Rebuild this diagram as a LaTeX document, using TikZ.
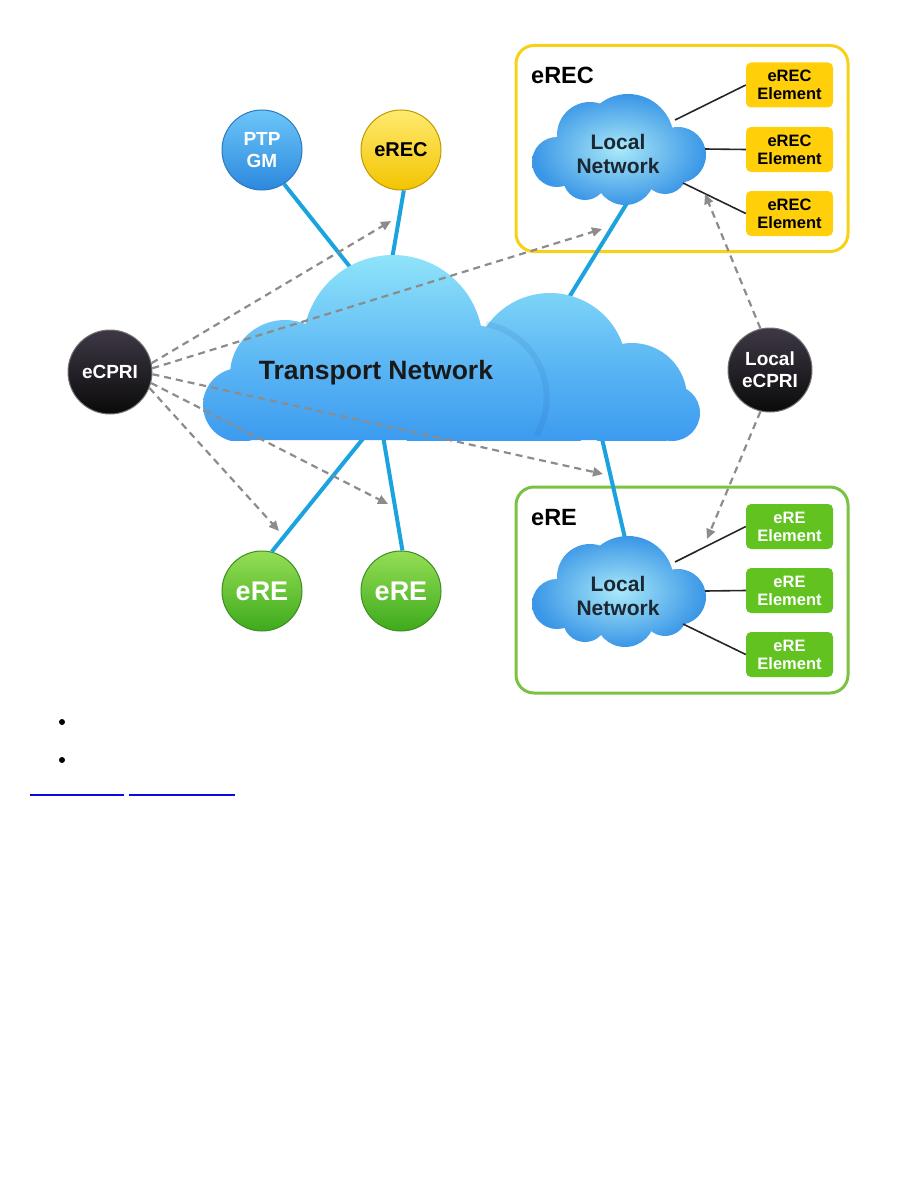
\documentclass[tikz,border=0pt]{standalone}
\usepackage{fontspec}
\setmainfont{Liberation Sans}
\usetikzlibrary{arrows.meta}
\definecolor{lineblue}{HTML}{1AA3DF}
\definecolor{arrgray}{HTML}{8C8C8C}
\definecolor{erecborder}{HTML}{F7D117}
\definecolor{erecfill}{HTML}{FFD00A}
\definecolor{ereborder}{HTML}{7CC242}
\definecolor{erefill}{HTML}{62C320}
\definecolor{ptpedge}{HTML}{2F78C0}
\definecolor{ptptop}{HTML}{6CC6F8}
\definecolor{ptpbot}{HTML}{2C88DE}
\definecolor{erecedge}{HTML}{BF9B00}
\definecolor{erectop}{HTML}{FFEA70}
\definecolor{erecbot}{HTML}{F2C400}
\definecolor{reedge}{HTML}{3C8E1E}
\definecolor{retop}{HTML}{95DE55}
\definecolor{rebot}{HTML}{3DAA1C}
\definecolor{blktop}{HTML}{3E3846}
\definecolor{blkbot}{HTML}{0A0A0A}
\definecolor{cloudtop}{HTML}{8FE4FA}
\definecolor{cloudbot}{HTML}{2F8FEE}
\definecolor{lcin}{HTML}{A9E9F9}
\definecolor{lcout}{HTML}{3A96E6}
\definecolor{darktext}{HTML}{1C2733}
\definecolor{linkblue}{HTML}{0A0AE0}
\begin{document}
\begin{tikzpicture}[x=1pt,y=-1pt,
  every node/.style={font=\bfseries},
  ball/.style={circle, minimum size=80pt, inner sep=0pt, line width=1pt, align=center},
  ptpball/.style={ball, draw=ptpedge, top color=ptptop, bottom color=ptpbot, text=white, font=\bfseries\fontsize{19}{22}\selectfont},
  erecball/.style={ball, draw=erecedge, top color=erectop, bottom color=erecbot, text=black, font=\bfseries\fontsize{20}{22}\selectfont},
  reball/.style={ball, draw=reedge, top color=retop, bottom color=rebot, text=white, font=\bfseries\fontsize{27}{30}\selectfont},
  blkball/.style={ball, minimum size=84pt, draw=black!55, top color=blktop, bottom color=blkbot, text=white, font=\bfseries\fontsize{19}{22}\selectfont},
  groupbox/.style={rectangle, rounded corners=18pt, line width=3pt, minimum width=332pt, minimum height=206pt, inner sep=0pt},
  grouplabel/.style={anchor=west, inner sep=0pt, font=\bfseries\fontsize{23.5}{26}\selectfont},
  cell/.style={rectangle, rounded corners=5pt, minimum width=87pt, minimum height=45pt, inner sep=0pt, align=center, font=\bfseries\fontsize{16.5}{18}\selectfont},
  ereccell/.style={cell, fill=erecfill, text=black},
  recell/.style={cell, fill=erefill, text=white},
  blueline/.style={draw=lineblue, line width=4pt},
  darrow/.style={draw=arrgray, line width=2.2pt, dash pattern=on 7pt off 5pt, -{Triangle[length=10pt,width=9pt]}},
  elemline/.style={draw=black!85, line width=1.6pt},
  lntext/.style={align=center, text=darktext, font=\bfseries\fontsize{21}{23.5}\selectfont},
]
\useasboundingbox (0,0) rectangle (918,1188);

% group boxes
\node[groupbox, draw=erecborder] (erecgroup) at (682,148.5) {};
\node[groupbox, draw=ereborder] (regroup) at (682,590) {};
\node[grouplabel] (erecglabel) at (531,75.5) {eREC};
\node[grouplabel] (reglabel) at (531,518) {eRE};

% circle nodes
\node[ptpball] (ptp) at (262,150) {PTP\\GM};
\node[erecball] (erec) at (401,150) {eREC};
\node[blkball] (ecpri) at (110,372) {eCPRI};
\node[blkball] (lecpri) at (770,370) {Local\\eCPRI};
\node[reball] (ere1) at (262,591) {eRE};
\node[reball] (ere2) at (401,591) {eRE};

% element cells
\node[ereccell] (ec1) at (789.5,85) {eREC\\Element};
\node[ereccell] (ec2) at (789.5,149.5) {eREC\\Element};
\node[ereccell] (ec3) at (789.5,213.5) {eREC\\Element};
\node[recell] (rc1) at (789.5,526.5) {eRE\\Element};
\node[recell] (rc2) at (789.5,590.5) {eRE\\Element};
\node[recell] (rc3) at (789.5,654.5) {eRE\\Element};

% hidden ends inside clouds
\coordinate (tc1) at (358,277);
\coordinate (tc2) at (391,265);
\coordinate (tc3) at (560,312);
\coordinate (tc4) at (370,430);
\coordinate (tc5) at (382,430);
\coordinate (tc6) at (600,430);
\coordinate (la) at (632,195);
\coordinate (lb) at (630,560);

% blue links
\draw[blueline] (ptp.-57) -- (tc1);
\draw[blueline] (erec.-86) -- (tc2);
\draw[blueline] (tc3) -- (la);
\draw[blueline] (ere1.76) -- (tc4);
\draw[blueline] (ere2.88) -- (tc5);
\draw[blueline] (tc6) -- (lb);

% transport cloud
\begin{scope}
  \clip (0,0) rectangle (918,440);
  \shade[top color=cloudtop, bottom color=cloudbot, middle color=cloudtop!45!cloudbot]
    (550,370) circle[radius=77pt]
    (632,398) circle[radius=55pt]
    (672,413) circle[radius=28pt]
    (500,380) rectangle (672,440)
    (393,345) circle[radius=90pt]
    (285,375) circle[radius=55pt]
    (240,405) circle[radius=37pt]
    (470,400) circle[radius=75pt]
    (240,380) rectangle (470,440)
    (285,340) rectangle (470,440);
  \draw[cloudbot!70!black, opacity=0.13, line width=6pt]
    (486,324) arc[start angle=79, end angle=-30, radius=75pt];
\end{scope}
\node[text=black!90, font=\bfseries\fontsize{26.5}{30}\selectfont] (transport) at (376,373) {Transport Network};

% local clouds
\foreach \dy/\nm in {0/lnerec, 442/lnere}{
  \begin{scope}[shift={(0,\dy)}]
    \shade[inner color=lcin, outer color=lcout]
      (557,162) circle[radius=25pt]
      (590,135) circle[radius=33pt]
      (628,140) circle[radius=46pt]
      (678,155) circle[radius=28pt]
      (585,178) circle[radius=22pt]
      (625,175) circle[radius=30pt]
      (665,172) circle[radius=22pt]
      (560,140) rectangle (680,185);
    \node[lntext] (\nm) at (618,154) {Local\\Network};
  \end{scope}
}

% element links
\coordinate (a1) at (675,120);
\coordinate (a2) at (705,149);
\coordinate (a3) at (683,183);
\coordinate (b1) at (675,562);
\coordinate (b2) at (705,591);
\coordinate (b3) at (683,624);
\draw[elemline] (a1) -- (ec1.west);
\draw[elemline] (a2) -- (ec2.west);
\draw[elemline] (a3) -- (ec3.west);
\draw[elemline] (b1) -- (rc1.west);
\draw[elemline] (b2) -- (rc2.west);
\draw[elemline] (b3) -- (rc3.west);

% dashed arrows
\coordinate (t1) at (391,221);
\coordinate (t2) at (602,229);
\coordinate (t3) at (603,474);
\coordinate (t4) at (388,504);
\coordinate (t5) at (279,531);
\coordinate (t6) at (705,194);
\coordinate (t7) at (707,539);
\draw[darrow] (ecpri.12) -- (t1);
\draw[darrow] (ecpri.5) -- (t2);
\draw[darrow] (ecpri.-3) -- (t3);
\draw[darrow] (ecpri.-15) -- (t4);
\draw[darrow] (ecpri.-22) -- (t5);
\draw[darrow] (lecpri.103) -- (t6);
\draw[darrow] (lecpri.-103) -- (t7);

% bullets and link underlines
\node[circle, fill=black, inner sep=0pt, minimum size=6pt] (bul1) at (62,722) {};
\node[circle, fill=black, inner sep=0pt, minimum size=6pt] (bul2) at (62,760) {};
\coordinate (u1a) at (30,795);
\coordinate (u1b) at (124,795);
\coordinate (u2a) at (129,795);
\coordinate (u2b) at (235,795);
\draw[linkblue, line width=1.3pt] (u1a) -- (u1b);
\draw[linkblue, line width=1.3pt] (u2a) -- (u2b);
\end{tikzpicture}
\end{document}
